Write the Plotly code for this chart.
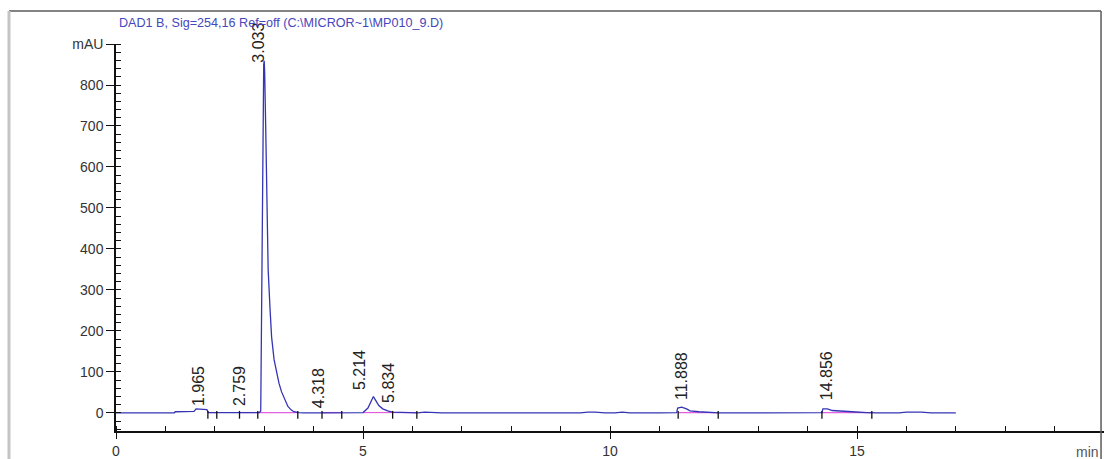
import plotly.graph_objects as go

# ---------------- data ----------------
# chromatogram trace (time in min, signal in mAU)
time_min = [0.0, 0.5, 1.0, 1.18, 1.2, 1.5, 1.58, 1.62, 1.75, 1.84, 1.87, 2.0, 2.3, 2.6, 2.8, 2.9,
            2.93, 2.95, 2.97, 2.99, 3.0, 3.01, 3.03, 3.05, 3.08, 3.12, 3.15, 3.2, 3.25, 3.3,
            3.35, 3.42, 3.48, 3.55, 3.6, 3.7, 3.8, 4.2, 4.6, 5.0, 5.1, 5.16, 5.21, 5.26,
            5.32, 5.4, 5.5, 5.6, 5.8, 6.1, 6.25, 6.4, 6.6, 7.5, 8.5, 9.4, 9.55, 9.7, 9.9,
            10.1, 10.25, 10.4, 11.0, 11.35, 11.37, 11.45, 11.55, 11.62, 11.8, 12.0, 12.2,
            13.0, 14.0, 14.29, 14.31, 14.4, 14.5, 14.7, 14.9, 15.2, 15.4, 15.85, 16.0,
            16.3, 16.5, 17.0]
signal_mau = [0, 0, 0, 0, 3, 3, 4, 10, 9, 8, 1, 1, 1, 1, 1, 1,
              5, 300, 700, 850, 859, 830, 700, 560, 350, 250, 185, 130, 100, 72,
              52, 30, 16, 7, 3, 1, 0, 0, 0, 1, 12, 28, 40, 30,
              18, 10, 5, 2, 1, 0, 2, 1, 0, 0, 0, 0, 2, 2, 0,
              0, 2, 0, 0, 1, 12, 14, 10, 5, 3, 2, 0,
              0, 0, 1, 10, 10, 6, 4, 3, 1, 0, 0, 2,
              2, 0, 0]

# peak labels: retention time text, label centre time, label base height
peak_text = ["1.965", "2.759", "3.033", "4.318", "5.214", "5.834", "11.888", "14.856"]
label_time = [1.66, 2.49, 2.89, 4.09, 4.92, 5.53, 11.46, 14.39]
label_base = [12, 12, 849, 7, 51, 20, 27, 27]

# integration event marks on the baseline (min)
event_times = [1.86, 2.04, 2.5, 2.87, 3.68, 4.17, 4.57, 5.6, 6.09, 11.38, 12.19, 14.29, 15.3]
# integration baselines (start, end) in min
baseline_start = [1.86, 2.5, 2.87, 4.17, 5.0, 5.6, 11.38, 14.29]
baseline_end = [2.04, 2.87, 3.68, 4.57, 5.6, 6.09, 12.19, 15.3]

y_tickvals = [0, 100, 200, 300, 400, 500, 600, 700, 800, 900]
y_ticktext = ["0", "100", "200", "300", "400", "500", "600", "700", "800", "mAU"]
x_tickvals = [0, 5, 10, 15]
x_ticktext = ["0", "5", "10", "15"]

title_text = "DAD1 B, Sig=254,16 Ref=off (C:\\MICROR~1\\MP010_9.D)"

# ---------------- figure ----------------
fig = go.Figure()

# pink integration baselines
bx, by = [], []
for s, e in zip(baseline_start, baseline_end):
    bx += [s, e, None]
    by += [1, 1, None]
fig.add_trace(go.Scatter(x=bx, y=by, mode="lines",
                         line=dict(color="#e060e0", width=1.2), hoverinfo="skip"))

# signal
fig.add_trace(go.Scatter(x=time_min, y=signal_mau, mode="lines",
                         line=dict(color="#3434b4", width=1.3)))

# event marks
ex, ey = [], []
for t in event_times:
    ex += [t, t, None]
    ey += [-14, 5, None]
fig.add_trace(go.Scatter(x=ex, y=ey, mode="lines",
                         line=dict(color="#111111", width=1.3), hoverinfo="skip"))

for txt, t, b in zip(peak_text, label_time, label_base):
    fig.add_annotation(x=t, y=b, text=txt, textangle=-90, showarrow=False,
                       xanchor="center", yanchor="bottom",
                       font=dict(family="Liberation Sans, Arial", size=16, color="#222222"))

fig.add_annotation(xref="paper", yref="paper", x=0.001, y=1.055, text=title_text,
                   showarrow=False, xanchor="left", yanchor="middle",
                   font=dict(family="Liberation Sans Narrow, Arial Narrow, Liberation Sans, Arial",
                             size=12.6, color="#4646bc"))

fig.add_annotation(xref="paper", yref="paper", x=0.997, y=0, yshift=-11, text="min",
                   showarrow=False, xanchor="right", yanchor="top",
                   font=dict(family="Liberation Sans, Arial", size=14, color="#555555"))

# outer frame
fig.add_shape(type="line", xref="paper", yref="paper", x0=-0.1083, x1=0.997,
              y0=1.0853, y1=1.0853, line=dict(color="#5a5a5a", width=1.5))
fig.add_shape(type="line", xref="paper", yref="paper", x0=0.997, x1=0.997,
              y0=1.0853, y1=-0.2, line=dict(color="#5a5a5a", width=1.5))
fig.add_shape(type="line", xref="paper", yref="paper", x0=-0.1083, x1=-0.1083,
              y0=1.0853, y1=-0.2, line=dict(color="#c4c4c4", width=3))

fig.update_layout(
    width=1104, height=459,
    margin=dict(l=116, r=0, t=44, b=28),
    paper_bgcolor="white", plot_bgcolor="white",
    showlegend=False,
    font=dict(family="Liberation Sans, Arial", size=14, color="#222222"),
)

fig.update_xaxes(range=[0, 20], showgrid=False, zeroline=False,
                 showline=True, linecolor="#111111", linewidth=1.5,
                 tickmode="array", tickvals=x_tickvals, ticktext=x_ticktext,
                 ticks="outside", ticklen=6, tickwidth=1.3, tickcolor="#111111",
                 tickfont=dict(size=14, color="#333333"),
                 minor=dict(tickmode="linear", tick0=0, dtick=1, ticks="inside",
                            ticklen=5, tickwidth=1.2, tickcolor="#111111", showgrid=False))
fig.update_yaxes(range=[-44, 900], showgrid=False, zeroline=False,
                 showline=True, linecolor="#111111", linewidth=1.5,
                 tickmode="array", tickvals=y_tickvals, ticktext=y_ticktext,
                 ticks="outside", ticklen=8, tickwidth=1.3, tickcolor="#111111",
                 tickfont=dict(size=14, color="#333333"),
                 minor=dict(tickmode="linear", tick0=0, dtick=20, ticks="inside",
                            ticklen=5, tickwidth=1.0, tickcolor="#111111", showgrid=False))

fig.write_html("out.html")
